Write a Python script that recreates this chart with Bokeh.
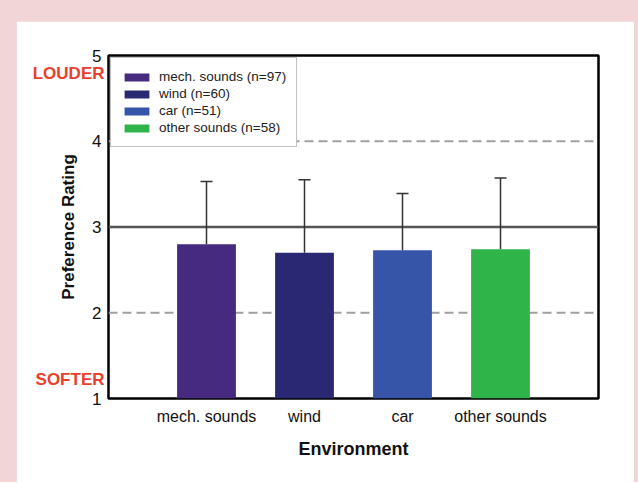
from bokeh.plotting import figure
from bokeh.models import (ColumnDataSource, FixedTicker, Span, Whisker, TeeHead,
                          Spacer, Legend, LegendItem, LinearAxis)
from bokeh.layouts import column, row
from bokeh.embed import file_html
from bokeh.resources import INLINE

# ---- data ----
categories = ["mech. sounds", "wind", "car", "other sounds"]
legend_labels = ["mech. sounds (n=97)", "wind (n=60)", "car (n=51)", "other sounds (n=58)"]
means = [2.80, 2.70, 2.73, 2.74]
sds = [0.73, 0.85, 0.66, 0.83]
bar_colors = ["#462a80", "#2a2872", "#3654a8", "#2fb44a"]
y_ticks = [1, 2, 3, 4, 5]
scale_words = ["SOFTER", "LOUDER"]
scale_word_pos = [1.22, 4.79]

positions = list(range(1, len(categories) + 1))
src = ColumnDataSource(dict(
    x=positions,
    top=means,
    upper=[m + s for m, s in zip(means, sds)],
    color=bar_colors,
))

FONT = "Liberation Sans"
PINK = "#f2d5d7"

p = figure(width=618, height=461, x_range=(0, len(categories) + 1), y_range=(1, 5),
           output_backend="svg", toolbar_location=None,
           min_border_left=92, min_border_right=36, min_border_top=34, min_border_bottom=84,
           background_fill_color="white", border_fill_color="white")

p.xgrid.visible = False
p.ygrid.visible = False
p.outline_line_color = "black"
p.outline_line_width = 2.5

# reference lines
for yv, col, dash, w in [(2, "#a0a0a0", "9 5", 2), (4, "#a0a0a0", "9 5", 2), (3, "#555555", "solid", 2.5)]:
    p.add_layout(Span(location=yv, dimension="width", line_color=col,
                      line_dash=dash, line_width=w, level="underlay"))

r = p.vbar(x="x", top="top", bottom=1, width=0.6, source=src,
           fill_color="color", line_color=None)

p.add_layout(Whisker(base="x", lower="top", upper="upper", source=src,
                     lower_head=None,
                     upper_head=TeeHead(size=12, line_color="#333333", line_width=1.5),
                     line_color="#333333", line_width=1.5))

legend = Legend(items=[LegendItem(label=lab, renderers=[r], index=i)
                       for i, lab in enumerate(legend_labels)],
                location="top_left")
legend.glyph_width = 31
legend.glyph_height = 10
legend.label_height = 17
legend.spacing = 0
legend.padding = 10
legend.margin = 2
legend.label_standoff = 7
legend.label_text_font = FONT
legend.label_text_font_size = "13.5px"
legend.label_text_color = "#222222"
legend.border_line_color = "#888888"
legend.border_line_width = 1.5
legend.background_fill_color = "white"
legend.background_fill_alpha = 1
p.add_layout(legend)

# axes
p.xaxis.ticker = FixedTicker(ticks=positions)
p.xaxis.major_label_overrides = {i: c for i, c in zip(positions, categories)}
p.xaxis.axis_label = "Environment"
p.yaxis.ticker = FixedTicker(ticks=y_ticks)
p.yaxis.axis_label = "Preference Rating"

# outer left axis carrying the LOUDER / SOFTER words
word_axis = LinearAxis(ticker=FixedTicker(ticks=scale_word_pos),
                       major_label_overrides={v: w for v, w in zip(scale_word_pos, scale_words)})
p.add_layout(word_axis, "left")

for ax in (p.xaxis[0], p.yaxis[0], word_axis):
    ax.axis_line_color = None
    ax.major_tick_line_color = None
    ax.minor_tick_line_color = None
    ax.major_label_text_font = FONT
    ax.major_label_text_color = "#111111"
    ax.axis_label_text_font = FONT
    ax.axis_label_text_font_style = "bold"
    ax.axis_label_text_color = "#111111"

word_axis.major_label_text_color = "#e8402e"
word_axis.major_label_text_font_style = "bold"
word_axis.major_label_text_font_size = "17px"
word_axis.major_label_standoff = -54

p.xaxis.major_label_text_font_size = "16px"
p.xaxis.major_label_standoff = 3
p.xaxis.axis_label_text_font_size = "18px"
p.xaxis.axis_label_standoff = 11
p.yaxis[0].major_label_text_font_size = "17px"
p.yaxis[0].major_label_standoff = 1
p.yaxis[0].axis_label_text_font_size = "17px"
p.yaxis[0].axis_label_standoff = 11

layout = column(Spacer(height=21), row(Spacer(width=16), p, Spacer(width=4)),
                styles={"background-color": PINK})

open("out.html", "w").write(file_html(layout, INLINE))
